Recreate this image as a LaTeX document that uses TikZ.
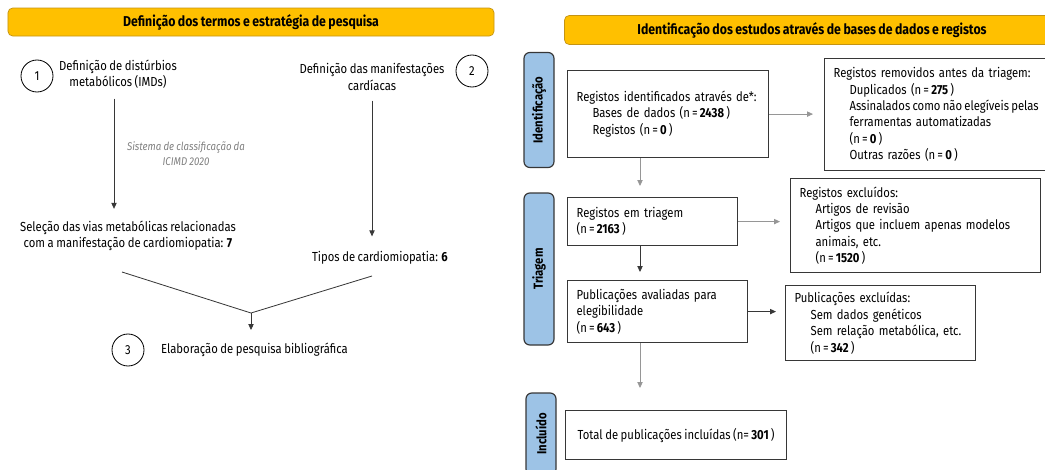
\documentclass[tikz,border=0pt]{standalone}
\usepackage{fontspec}
\setmainfont{Fira Sans}[FakeStretch=0.86, WordSpace=0.85]
\usetikzlibrary{arrows.meta}
\definecolor{bnY}{RGB}{255,192,0}
\definecolor{bnYd}{RGB}{196,148,20}
\definecolor{phB}{RGB}{157,195,230}
\definecolor{lnD}{RGB}{55,55,55}
\definecolor{lnG}{RGB}{150,150,150}
\newcommand{\txtf}{\fontsize{11.2}{14}\selectfont}
\newcommand{\ind}{\hspace*{0.48cm}}
\newcommand{\nval}[1]{(n\,=\,\textbf{#1}\,)}

\begin{document}
\begin{tikzpicture}[
    x=0.03cm, y=-0.03cm,
    font=\txtf,
    banner/.style={draw=bnYd, fill=bnY, rounded corners=4pt, line width=0.6pt,
      font=\fontsize{12.2}{14}\selectfont\bfseries},
    phase/.style={draw=lnD, fill=phB, rounded corners=5pt, line width=1pt, rotate=90,
      minimum height=0.9cm, font=\txtf\bfseries},
    box/.style={draw=lnD, line width=1pt, align=left, inner xsep=0.27cm, anchor=north west},
    num/.style={circle, draw=black, line width=0.7pt, minimum size=0.96cm, inner sep=0pt},
    txt/.style={align=center},
    note/.style={align=center, text=black!50, font=\fontsize{9.6}{13}\selectfont\itshape},
    ln/.style={draw=lnD, line width=0.7pt},
    arr/.style={ln, -{Triangle[length=1.8mm,width=1.6mm]}},
    arrg/.style={arr, draw=lnG},
  ]
  \useasboundingbox (0,0) rectangle (1045,469);

  %% ================= left: terms and search strategy =================
  \node[banner, minimum width=14.58cm, minimum height=0.84cm] (lhead) at (251,22)
    {Definição dos termos e estratégia de pesquisa};

  \node[num] (n1) at (37,76) {1};
  \node[txt] (def1) at (118,74) {Definição de distúrbios\\metabólicos (IMDs)};
  \node[num] (n2) at (472,71) {2};
  \node[txt] (def2) at (372,77) {Definição das manifestações\\cardíacas};
  \node[note] (cls) at (186,154) {Sistema de classificação da\\ICIMD 2020};
  \node[txt] (sel) at (128,236)
    {Seleção das vias metabólicas relacionadas\\com a manifestação de cardiomiopatia: \textbf{7}};
  \node[txt] (tipos) at (380,258) {Tipos de cardiomiopatia: \textbf{6}};
  \node[num] (n3) at (128,350) {3};
  \node[anchor=west] (elab) at (157,350) {Elaboração de pesquisa bibliográfica};

  \coordinate (c1) at (114,0);
  \coordinate (jl) at (122,272);
  \coordinate (jr) at (372,276);
  \coordinate (meet) at (251,313);

  \draw[arr, shorten <=0.18cm, shorten >=0.24cm] (def1.south -| c1) -- (sel.north -| c1);
  \draw[arr, shorten <=0.18cm, shorten >=0.33cm] (def2.south) -- (def2.south |- tipos.north);
  \draw[ln] (jl) -- (meet) -- (jr);
  \draw[arr, shorten >=0.27cm] (meet) -- (meet |- elab.north);

  %% ================= right: identification of the studies =================
  \node[banner, minimum width=14.85cm, minimum height=0.87cm] (rhead) at (812,30)
    {Identificação dos estudos através de bases de dados e registos};

  % phase labels on the left edge
  \node[phase, minimum width=3.45cm] (ph1) at (539,110) {Identificação};
  \node[phase, minimum width=4.56cm] (ph2) at (539,269) {Triagem};
  \node[phase, minimum width=2.46cm] (ph3) at (541,434) {Incluído};

  \node[box, text width=5.49cm, minimum height=2.61cm] (idb) at (567,70)
    {Registos identificados através de*:\\\ind Bases de dados \nval{2438}\\\ind Registos \nval{0}};
  \node[box, text width=6.6cm, minimum height=3.36cm] (rem) at (824,58)
    {Registos removidos antes da triagem:\\\ind Duplicados \nval{275}\\\ind {\spaceskip=0.17em\relax Assinalados como não elegíveis pelas}\\\ind ferramentas automatizadas\\\ind \nval{0}\\\ind Outras razões \nval{0}};
  \node[box, text width=4.56cm, minimum height=1.44cm] (scr) at (567,197)
    {Registos em triagem\\\nval{2163}};
  \node[box, text width=6.96cm, minimum height=2.82cm] (exc) at (790,178)
    {Registos excluídos:\\\ind Artigos de revisão\\\ind Artigos que incluem apenas modelos\\\ind animais, etc.\\\ind \nval{1520}};
  \node[box, text width=4.86cm, minimum height=1.86cm] (elig) at (567,280)
    {Publicações avaliadas para\\elegibilidade\\\nval{643}};
  \node[box, text width=5.16cm, minimum height=2.25cm] (pex) at (785,285)
    {Publicações excluídas:\\\ind Sem dados genéticos\\\ind Sem relação metabólica, etc.\\\ind \nval{342}};
  \node[box, align=center, minimum width=6.63cm, minimum height=1.47cm] (inc) at (565,410)
    {Total de publicações incluídas (n=\,\textbf{301}\,)};

  % main flow down the column, side exits to the right
  \coordinate (ax) at (640,0);
  \draw[arrg, shorten >=0.33cm] (idb.south -| ax) -- (scr.north -| ax);
  \draw[arr, shorten >=0.24cm] (scr.south -| ax) -- (elig.north -| ax);
  \draw[arrg, shorten >=0.66cm] (elig.south -| ax) -- (inc.north -| ax);
  \draw[arrg, shorten >=0.33cm] (idb.east) -- (idb.east -| rem.west);
  \draw[arrg, shorten >=0.30cm] (scr.east) -- (scr.east -| exc.west);
  \draw[arr, shorten >=0.27cm] (elig.east) -- (elig.east -| pex.west);

\end{tikzpicture}
\end{document}
